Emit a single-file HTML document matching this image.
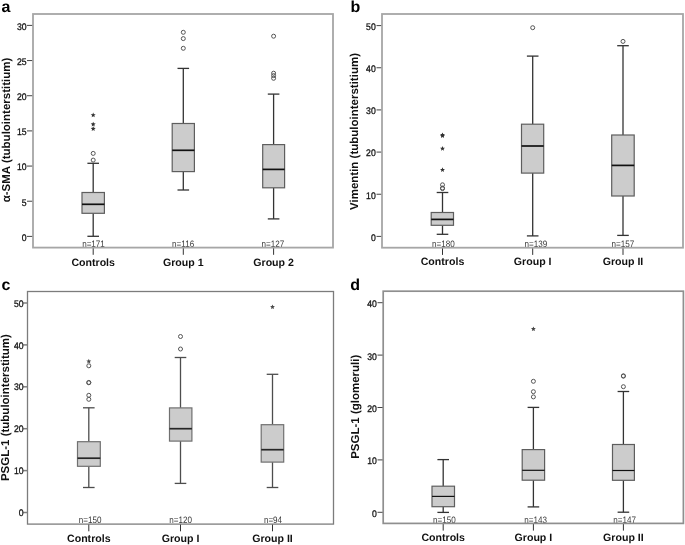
<!DOCTYPE html>
<html><head><meta charset="utf-8"><style>
html,body{margin:0;padding:0;background:#fff;overflow:hidden;}
svg{display:block;will-change:transform;}
text{font-family:"Liberation Sans", sans-serif;text-rendering:geometricPrecision;}
.tl{font-size:9.6px;fill:#111;stroke:#111;stroke-width:0.3px;}
.nl{font-size:9.3px;fill:#383838;}
.xl{font-size:10.6px;font-weight:bold;fill:#111;}
.yt{font-size:11.5px;font-weight:bold;fill:#111;}
.pl{font-size:16px;font-weight:bold;fill:#000;}
</style></head><body>
<svg width="685" height="545" viewBox="0 0 685 545">
<rect width="685" height="545" fill="#fff"/>
<line x1="27" y1="236.40" x2="33" y2="236.40" stroke="#444" stroke-width="1"/>
<text text-anchor="end" class="tl" transform="translate(26.6,240.80) scale(0.9,1)">0</text>
<line x1="27" y1="201.23" x2="33" y2="201.23" stroke="#444" stroke-width="1"/>
<text text-anchor="end" class="tl" transform="translate(26.6,205.63) scale(0.9,1)">5</text>
<line x1="27" y1="166.07" x2="33" y2="166.07" stroke="#444" stroke-width="1"/>
<text text-anchor="end" class="tl" transform="translate(26.6,170.47) scale(0.9,1)">10</text>
<line x1="27" y1="130.90" x2="33" y2="130.90" stroke="#444" stroke-width="1"/>
<text text-anchor="end" class="tl" transform="translate(26.6,135.30) scale(0.9,1)">15</text>
<line x1="27" y1="95.73" x2="33" y2="95.73" stroke="#444" stroke-width="1"/>
<text text-anchor="end" class="tl" transform="translate(26.6,100.13) scale(0.9,1)">20</text>
<line x1="27" y1="60.57" x2="33" y2="60.57" stroke="#444" stroke-width="1"/>
<text text-anchor="end" class="tl" transform="translate(26.6,64.97) scale(0.9,1)">25</text>
<line x1="27" y1="25.40" x2="33" y2="25.40" stroke="#444" stroke-width="1"/>
<text text-anchor="end" class="tl" transform="translate(26.6,29.80) scale(0.9,1)">30</text>
<line x1="93.2" y1="163.3" x2="93.2" y2="192.5" stroke="#333" stroke-width="1.3"/>
<line x1="93.2" y1="213.3" x2="93.2" y2="236.3" stroke="#333" stroke-width="1.3"/>
<line x1="87.40" y1="163.3" x2="99.00" y2="163.3" stroke="#333" stroke-width="1.3"/>
<line x1="87.40" y1="236.3" x2="99.00" y2="236.3" stroke="#333" stroke-width="1.3"/>
<rect x="82" y="192.5" width="22.40" height="20.80" fill="#cccccc" stroke="#5e5e5e" stroke-width="1.2"/>
<line x1="82" y1="204.3" x2="104.4" y2="204.3" stroke="#111" stroke-width="1.7"/>
<circle cx="93.2" cy="153.4" r="2.0" fill="none" stroke="#555" stroke-width="1.0"/>
<circle cx="93.2" cy="160.1" r="2.0" fill="none" stroke="#555" stroke-width="1.0"/>
<polygon points="93.20,112.50 93.89,114.15 95.67,114.30 94.31,115.46 94.73,117.20 93.20,116.27 91.67,117.20 92.09,115.46 90.73,114.30 92.51,114.15" fill="#333"/>
<polygon points="93.20,121.70 93.89,123.35 95.67,123.50 94.31,124.66 94.73,126.40 93.20,125.47 91.67,126.40 92.09,124.66 90.73,123.50 92.51,123.35" fill="#333"/>
<polygon points="93.20,126.20 93.89,127.85 95.67,128.00 94.31,129.16 94.73,130.90 93.20,129.97 91.67,130.90 92.09,129.16 90.73,128.00 92.51,127.85" fill="#333"/>
<line x1="93.2" y1="247.6" x2="93.2" y2="254.80" stroke="#333" stroke-width="1"/>
<text text-anchor="middle" class="nl" transform="translate(93.5,246.9) scale(0.87,1)">n=171</text>
<text x="93.2" y="265.5" text-anchor="middle" class="xl">Controls</text>
<line x1="183.3" y1="68.4" x2="183.3" y2="123.5" stroke="#333" stroke-width="1.3"/>
<line x1="183.3" y1="171.6" x2="183.3" y2="190" stroke="#333" stroke-width="1.3"/>
<line x1="177.50" y1="68.4" x2="189.10" y2="68.4" stroke="#333" stroke-width="1.3"/>
<line x1="177.50" y1="190" x2="189.10" y2="190" stroke="#333" stroke-width="1.3"/>
<rect x="172.2" y="123.5" width="22.20" height="48.10" fill="#cccccc" stroke="#5e5e5e" stroke-width="1.2"/>
<line x1="172.2" y1="150.3" x2="194.4" y2="150.3" stroke="#111" stroke-width="1.7"/>
<circle cx="183.3" cy="32.3" r="2.0" fill="none" stroke="#555" stroke-width="1.0"/>
<circle cx="183.3" cy="38.6" r="2.0" fill="none" stroke="#555" stroke-width="1.0"/>
<circle cx="183.3" cy="48.3" r="2.0" fill="none" stroke="#555" stroke-width="1.0"/>
<line x1="183.3" y1="247.6" x2="183.3" y2="254.80" stroke="#333" stroke-width="1"/>
<text text-anchor="middle" class="nl" transform="translate(183.15,246.9) scale(0.87,1)">n=116</text>
<text x="183.3" y="265.5" text-anchor="middle" class="xl">Group 1</text>
<line x1="273.6" y1="94.1" x2="273.6" y2="144.6" stroke="#333" stroke-width="1.3"/>
<line x1="273.6" y1="187.8" x2="273.6" y2="218.9" stroke="#333" stroke-width="1.3"/>
<line x1="267.80" y1="94.1" x2="279.40" y2="94.1" stroke="#333" stroke-width="1.3"/>
<line x1="267.80" y1="218.9" x2="279.40" y2="218.9" stroke="#333" stroke-width="1.3"/>
<rect x="262.7" y="144.6" width="21.90" height="43.20" fill="#cccccc" stroke="#5e5e5e" stroke-width="1.2"/>
<line x1="262.7" y1="169.4" x2="284.6" y2="169.4" stroke="#111" stroke-width="1.7"/>
<circle cx="273.6" cy="36.2" r="2.0" fill="none" stroke="#555" stroke-width="1.0"/>
<circle cx="273.6" cy="73.2" r="2.0" fill="none" stroke="#555" stroke-width="1.0"/>
<circle cx="273.6" cy="75.6" r="2.0" fill="none" stroke="#555" stroke-width="1.0"/>
<circle cx="273.6" cy="78.3" r="2.0" fill="none" stroke="#555" stroke-width="1.0"/>
<line x1="273.6" y1="247.6" x2="273.6" y2="254.80" stroke="#333" stroke-width="1"/>
<text text-anchor="middle" class="nl" transform="translate(272.85,246.9) scale(0.87,1)">n=127</text>
<text x="273.6" y="265.5" text-anchor="middle" class="xl">Group 2</text>
<rect x="33" y="14" width="300.00" height="233.60" fill="none" stroke="#a6a6a6" stroke-width="1.8"/>
<text x="0" y="0" text-anchor="middle" class="yt" transform="translate(9.7,130) rotate(-90)">α-SMA (tubulointerstitium)</text>
<text x="1.5" y="12.2" class="pl">a</text>
<line x1="376.5" y1="236.40" x2="382" y2="236.40" stroke="#444" stroke-width="1"/>
<text text-anchor="end" class="tl" transform="translate(375.7,240.80) scale(0.9,1)">0</text>
<line x1="376.5" y1="194.24" x2="382" y2="194.24" stroke="#444" stroke-width="1"/>
<text text-anchor="end" class="tl" transform="translate(375.7,198.64) scale(0.9,1)">10</text>
<line x1="376.5" y1="152.08" x2="382" y2="152.08" stroke="#444" stroke-width="1"/>
<text text-anchor="end" class="tl" transform="translate(375.7,156.48) scale(0.9,1)">20</text>
<line x1="376.5" y1="109.92" x2="382" y2="109.92" stroke="#444" stroke-width="1"/>
<text text-anchor="end" class="tl" transform="translate(375.7,114.32) scale(0.9,1)">30</text>
<line x1="376.5" y1="67.76" x2="382" y2="67.76" stroke="#444" stroke-width="1"/>
<text text-anchor="end" class="tl" transform="translate(375.7,72.16) scale(0.9,1)">40</text>
<line x1="376.5" y1="25.60" x2="382" y2="25.60" stroke="#444" stroke-width="1"/>
<text text-anchor="end" class="tl" transform="translate(375.7,30.00) scale(0.9,1)">50</text>
<line x1="442.5" y1="192.5" x2="442.5" y2="212.5" stroke="#333" stroke-width="1.3"/>
<line x1="442.5" y1="225.3" x2="442.5" y2="234.3" stroke="#333" stroke-width="1.3"/>
<line x1="436.70" y1="192.5" x2="448.30" y2="192.5" stroke="#333" stroke-width="1.3"/>
<line x1="436.70" y1="234.3" x2="448.30" y2="234.3" stroke="#333" stroke-width="1.3"/>
<rect x="431.2" y="212.5" width="22.30" height="12.80" fill="#cccccc" stroke="#5e5e5e" stroke-width="1.2"/>
<line x1="431.2" y1="219.4" x2="453.5" y2="219.4" stroke="#111" stroke-width="1.7"/>
<circle cx="442.5" cy="184.8" r="2.0" fill="none" stroke="#555" stroke-width="1.0"/>
<circle cx="442.5" cy="188.0" r="2.0" fill="none" stroke="#555" stroke-width="1.0"/>
<circle cx="442.5" cy="188.6" r="2.0" fill="none" stroke="#555" stroke-width="1.0"/>
<polygon points="442.50,132.40 443.19,134.05 444.97,134.20 443.61,135.36 444.03,137.10 442.50,136.17 440.97,137.10 441.39,135.36 440.03,134.20 441.81,134.05" fill="#333"/>
<polygon points="442.50,133.20 443.19,134.85 444.97,135.00 443.61,136.16 444.03,137.90 442.50,136.97 440.97,137.90 441.39,136.16 440.03,135.00 441.81,134.85" fill="#333"/>
<polygon points="442.50,146.00 443.19,147.65 444.97,147.80 443.61,148.96 444.03,150.70 442.50,149.77 440.97,150.70 441.39,148.96 440.03,147.80 441.81,147.65" fill="#333"/>
<polygon points="442.50,167.30 443.19,168.95 444.97,169.10 443.61,170.26 444.03,172.00 442.50,171.07 440.97,172.00 441.39,170.26 440.03,169.10 441.81,168.95" fill="#333"/>
<line x1="442.5" y1="247.7" x2="442.5" y2="254.90" stroke="#333" stroke-width="1"/>
<text text-anchor="middle" class="nl" transform="translate(443.45,246.5) scale(0.87,1)">n=180</text>
<text x="442.5" y="265.3" text-anchor="middle" class="xl">Controls</text>
<line x1="532.7" y1="56.1" x2="532.7" y2="124.2" stroke="#333" stroke-width="1.3"/>
<line x1="532.7" y1="173.1" x2="532.7" y2="235.9" stroke="#333" stroke-width="1.3"/>
<line x1="526.90" y1="56.1" x2="538.50" y2="56.1" stroke="#333" stroke-width="1.3"/>
<line x1="526.90" y1="235.9" x2="538.50" y2="235.9" stroke="#333" stroke-width="1.3"/>
<rect x="521.5" y="124.2" width="22.20" height="48.90" fill="#cccccc" stroke="#5e5e5e" stroke-width="1.2"/>
<line x1="521.5" y1="146.0" x2="543.7" y2="146.0" stroke="#111" stroke-width="1.7"/>
<circle cx="532.7" cy="27.7" r="2.0" fill="none" stroke="#555" stroke-width="1.0"/>
<line x1="532.7" y1="247.7" x2="532.7" y2="254.90" stroke="#333" stroke-width="1"/>
<text text-anchor="middle" class="nl" transform="translate(535.85,246.5) scale(0.87,1)">n=139</text>
<text x="532.7" y="265.3" text-anchor="middle" class="xl">Group I</text>
<line x1="623.0" y1="45.7" x2="623.0" y2="135.0" stroke="#333" stroke-width="1.3"/>
<line x1="623.0" y1="196.0" x2="623.0" y2="235.4" stroke="#333" stroke-width="1.3"/>
<line x1="617.20" y1="45.7" x2="628.80" y2="45.7" stroke="#333" stroke-width="1.3"/>
<line x1="617.20" y1="235.4" x2="628.80" y2="235.4" stroke="#333" stroke-width="1.3"/>
<rect x="611.7" y="135.0" width="22.50" height="61.00" fill="#cccccc" stroke="#5e5e5e" stroke-width="1.2"/>
<line x1="611.7" y1="165.4" x2="634.2" y2="165.4" stroke="#111" stroke-width="1.7"/>
<circle cx="623.0" cy="41.4" r="2.0" fill="none" stroke="#555" stroke-width="1.0"/>
<line x1="623.0" y1="247.7" x2="623.0" y2="254.90" stroke="#333" stroke-width="1"/>
<text text-anchor="middle" class="nl" transform="translate(622.8,246.5) scale(0.87,1)">n=157</text>
<text x="623.0" y="265.3" text-anchor="middle" class="xl">Group II</text>
<rect x="382" y="14" width="301.00" height="233.70" fill="none" stroke="#a6a6a6" stroke-width="1.8"/>
<text x="0" y="0" text-anchor="middle" class="yt" transform="translate(357.6,131.5) rotate(-90)">Vimentin (tubulointerstitium)</text>
<text x="350.5" y="12.2" class="pl">b</text>
<line x1="23.2" y1="512.50" x2="27.5" y2="512.50" stroke="#808080" stroke-width="1.5"/>
<text text-anchor="end" class="tl" transform="translate(23.5,516.10) scale(0.9,1)">0</text>
<line x1="23.2" y1="470.60" x2="27.5" y2="470.60" stroke="#808080" stroke-width="1.5"/>
<text text-anchor="end" class="tl" transform="translate(23.5,474.20) scale(0.9,1)">10</text>
<line x1="23.2" y1="428.70" x2="27.5" y2="428.70" stroke="#808080" stroke-width="1.5"/>
<text text-anchor="end" class="tl" transform="translate(23.5,432.30) scale(0.9,1)">20</text>
<line x1="23.2" y1="386.80" x2="27.5" y2="386.80" stroke="#808080" stroke-width="1.5"/>
<text text-anchor="end" class="tl" transform="translate(23.5,390.40) scale(0.9,1)">30</text>
<line x1="23.2" y1="344.90" x2="27.5" y2="344.90" stroke="#808080" stroke-width="1.5"/>
<text text-anchor="end" class="tl" transform="translate(23.5,348.50) scale(0.9,1)">40</text>
<line x1="23.2" y1="303.00" x2="27.5" y2="303.00" stroke="#808080" stroke-width="1.5"/>
<text text-anchor="end" class="tl" transform="translate(23.5,306.60) scale(0.9,1)">50</text>
<line x1="88.8" y1="407.8" x2="88.8" y2="441.7" stroke="#4d4d4d" stroke-width="1.3"/>
<line x1="88.8" y1="466.3" x2="88.8" y2="487.5" stroke="#4d4d4d" stroke-width="1.3"/>
<line x1="83.00" y1="407.8" x2="94.60" y2="407.8" stroke="#4d4d4d" stroke-width="1.3"/>
<line x1="83.00" y1="487.5" x2="94.60" y2="487.5" stroke="#4d4d4d" stroke-width="1.3"/>
<rect x="77.5" y="441.7" width="22.80" height="24.60" fill="#cccccc" stroke="#707070" stroke-width="1.2"/>
<line x1="77.5" y1="458.2" x2="100.3" y2="458.2" stroke="#262626" stroke-width="1.7"/>
<circle cx="88.8" cy="365.8" r="2.0" fill="none" stroke="#555" stroke-width="1.0"/>
<circle cx="88.8" cy="382.45" r="2.0" fill="none" stroke="#555" stroke-width="1.0"/>
<circle cx="88.8" cy="382.75" r="2.0" fill="none" stroke="#555" stroke-width="1.0"/>
<circle cx="88.8" cy="395.3" r="2.0" fill="none" stroke="#555" stroke-width="1.0"/>
<circle cx="88.8" cy="399.3" r="2.0" fill="none" stroke="#555" stroke-width="1.0"/>
<polygon points="88.80,358.80 89.49,360.45 91.27,360.60 89.91,361.76 90.33,363.50 88.80,362.57 87.27,363.50 87.69,361.76 86.33,360.60 88.11,360.45" fill="#4a4a4a"/>
<line x1="88.8" y1="524.1" x2="88.8" y2="531.30" stroke="#333" stroke-width="1"/>
<text text-anchor="middle" class="nl" transform="translate(90.15,523.0999999999999) scale(0.87,1)">n=150</text>
<text x="88.8" y="541.5" text-anchor="middle" class="xl">Controls</text>
<line x1="180.5" y1="357.5" x2="180.5" y2="407.9" stroke="#4d4d4d" stroke-width="1.3"/>
<line x1="180.5" y1="441.1" x2="180.5" y2="483.4" stroke="#4d4d4d" stroke-width="1.3"/>
<line x1="174.70" y1="357.5" x2="186.30" y2="357.5" stroke="#4d4d4d" stroke-width="1.3"/>
<line x1="174.70" y1="483.4" x2="186.30" y2="483.4" stroke="#4d4d4d" stroke-width="1.3"/>
<rect x="169.5" y="407.9" width="22.40" height="33.20" fill="#cccccc" stroke="#707070" stroke-width="1.2"/>
<line x1="169.5" y1="428.7" x2="191.9" y2="428.7" stroke="#262626" stroke-width="1.7"/>
<circle cx="180.5" cy="336.5" r="2.0" fill="none" stroke="#555" stroke-width="1.0"/>
<circle cx="180.5" cy="349.0" r="2.0" fill="none" stroke="#555" stroke-width="1.0"/>
<line x1="180.5" y1="524.1" x2="180.5" y2="531.30" stroke="#333" stroke-width="1"/>
<text text-anchor="middle" class="nl" transform="translate(180.65,523.0999999999999) scale(0.87,1)">n=120</text>
<text x="180.5" y="541.5" text-anchor="middle" class="xl">Group I</text>
<line x1="272.5" y1="374.3" x2="272.5" y2="424.7" stroke="#4d4d4d" stroke-width="1.3"/>
<line x1="272.5" y1="462.1" x2="272.5" y2="487.5" stroke="#4d4d4d" stroke-width="1.3"/>
<line x1="266.70" y1="374.3" x2="278.30" y2="374.3" stroke="#4d4d4d" stroke-width="1.3"/>
<line x1="266.70" y1="487.5" x2="278.30" y2="487.5" stroke="#4d4d4d" stroke-width="1.3"/>
<rect x="261.2" y="424.7" width="22.50" height="37.40" fill="#cccccc" stroke="#707070" stroke-width="1.2"/>
<line x1="261.2" y1="449.7" x2="283.7" y2="449.7" stroke="#262626" stroke-width="1.7"/>
<polygon points="272.50,304.40 273.19,306.05 274.97,306.20 273.61,307.36 274.03,309.10 272.50,308.17 270.97,309.10 271.39,307.36 270.03,306.20 271.81,306.05" fill="#4a4a4a"/>
<line x1="272.5" y1="524.1" x2="272.5" y2="531.30" stroke="#333" stroke-width="1"/>
<text text-anchor="middle" class="nl" transform="translate(273.0,523.0999999999999) scale(0.87,1)">n=94</text>
<text x="272.5" y="541.5" text-anchor="middle" class="xl">Group II</text>
<rect x="27.5" y="291.5" width="306.00" height="232.60" fill="none" stroke="#7c7c7c" stroke-width="1.3"/>
<text x="0" y="0" text-anchor="middle" class="yt" transform="translate(8.9,407.6) rotate(-90)">PSGL-1 (tubulointerstitum)</text>
<text x="1.5" y="290.0" class="pl">c</text>
<line x1="377.5" y1="512.30" x2="383.2" y2="512.30" stroke="#444" stroke-width="1"/>
<text text-anchor="end" class="tl" transform="translate(376.9,516.70) scale(0.9,1)">0</text>
<line x1="377.5" y1="459.90" x2="383.2" y2="459.90" stroke="#444" stroke-width="1"/>
<text text-anchor="end" class="tl" transform="translate(376.9,464.30) scale(0.9,1)">10</text>
<line x1="377.5" y1="407.50" x2="383.2" y2="407.50" stroke="#444" stroke-width="1"/>
<text text-anchor="end" class="tl" transform="translate(376.9,411.90) scale(0.9,1)">20</text>
<line x1="377.5" y1="355.10" x2="383.2" y2="355.10" stroke="#444" stroke-width="1"/>
<text text-anchor="end" class="tl" transform="translate(376.9,359.50) scale(0.9,1)">30</text>
<line x1="377.5" y1="302.70" x2="383.2" y2="302.70" stroke="#444" stroke-width="1"/>
<text text-anchor="end" class="tl" transform="translate(376.9,307.10) scale(0.9,1)">40</text>
<line x1="443.2" y1="459.6" x2="443.2" y2="486.2" stroke="#333" stroke-width="1.3"/>
<line x1="443.2" y1="506.7" x2="443.2" y2="512.4" stroke="#333" stroke-width="1.3"/>
<line x1="437.40" y1="459.6" x2="449.00" y2="459.6" stroke="#333" stroke-width="1.3"/>
<line x1="437.40" y1="512.4" x2="449.00" y2="512.4" stroke="#333" stroke-width="1.3"/>
<rect x="432.0" y="486.2" width="22.50" height="20.50" fill="#cccccc" stroke="#5e5e5e" stroke-width="1.2"/>
<line x1="432.0" y1="496.4" x2="454.5" y2="496.4" stroke="#111" stroke-width="1.2"/>
<line x1="443.2" y1="523.4" x2="443.2" y2="530.60" stroke="#333" stroke-width="1"/>
<text text-anchor="middle" class="nl" transform="translate(444.3,522.9) scale(0.87,1)">n=150</text>
<text x="443.2" y="541.0" text-anchor="middle" class="xl">Controls</text>
<line x1="533.4" y1="407.4" x2="533.4" y2="449.6" stroke="#333" stroke-width="1.3"/>
<line x1="533.4" y1="480.2" x2="533.4" y2="506.9" stroke="#333" stroke-width="1.3"/>
<line x1="527.60" y1="407.4" x2="539.20" y2="407.4" stroke="#333" stroke-width="1.3"/>
<line x1="527.60" y1="506.9" x2="539.20" y2="506.9" stroke="#333" stroke-width="1.3"/>
<rect x="522.2" y="449.6" width="22.40" height="30.60" fill="#cccccc" stroke="#5e5e5e" stroke-width="1.2"/>
<line x1="522.2" y1="470.3" x2="544.6" y2="470.3" stroke="#111" stroke-width="1.2"/>
<circle cx="533.4" cy="381.3" r="2.0" fill="none" stroke="#555" stroke-width="1.0"/>
<circle cx="533.4" cy="391.7" r="2.0" fill="none" stroke="#555" stroke-width="1.0"/>
<circle cx="533.4" cy="396.9" r="2.0" fill="none" stroke="#555" stroke-width="1.0"/>
<polygon points="533.40,326.40 534.09,328.05 535.87,328.20 534.51,329.36 534.93,331.10 533.40,330.17 531.87,331.10 532.29,329.36 530.93,328.20 532.71,328.05" fill="#444"/>
<line x1="533.4" y1="523.4" x2="533.4" y2="530.60" stroke="#333" stroke-width="1"/>
<text text-anchor="middle" class="nl" transform="translate(535.7,522.9) scale(0.87,1)">n=143</text>
<text x="533.4" y="541.0" text-anchor="middle" class="xl">Group I</text>
<line x1="623.4" y1="391.5" x2="623.4" y2="444.5" stroke="#333" stroke-width="1.3"/>
<line x1="623.4" y1="480.3" x2="623.4" y2="512.2" stroke="#333" stroke-width="1.3"/>
<line x1="617.60" y1="391.5" x2="629.20" y2="391.5" stroke="#333" stroke-width="1.3"/>
<line x1="617.60" y1="512.2" x2="629.20" y2="512.2" stroke="#333" stroke-width="1.3"/>
<rect x="612.5" y="444.5" width="21.90" height="35.80" fill="#cccccc" stroke="#5e5e5e" stroke-width="1.2"/>
<line x1="612.5" y1="470.5" x2="634.4" y2="470.5" stroke="#111" stroke-width="1.2"/>
<circle cx="623.4" cy="375.85" r="2.0" fill="none" stroke="#555" stroke-width="1.0"/>
<circle cx="623.4" cy="376.15" r="2.0" fill="none" stroke="#555" stroke-width="1.0"/>
<circle cx="623.4" cy="386.7" r="2.0" fill="none" stroke="#555" stroke-width="1.0"/>
<line x1="623.4" y1="523.4" x2="623.4" y2="530.60" stroke="#333" stroke-width="1"/>
<text text-anchor="middle" class="nl" transform="translate(624.7,522.9) scale(0.87,1)">n=147</text>
<text x="623.4" y="541.0" text-anchor="middle" class="xl">Group II</text>
<rect x="383.2" y="291.2" width="300.20" height="232.20" fill="none" stroke="#8f8f8f" stroke-width="1.7"/>
<text x="0" y="0" text-anchor="middle" class="yt" transform="translate(358.8,406.75) rotate(-90)">PSGL-1 (glomeruli)</text>
<text x="350.2" y="290.0" class="pl">d</text>
</svg>
</body></html>
